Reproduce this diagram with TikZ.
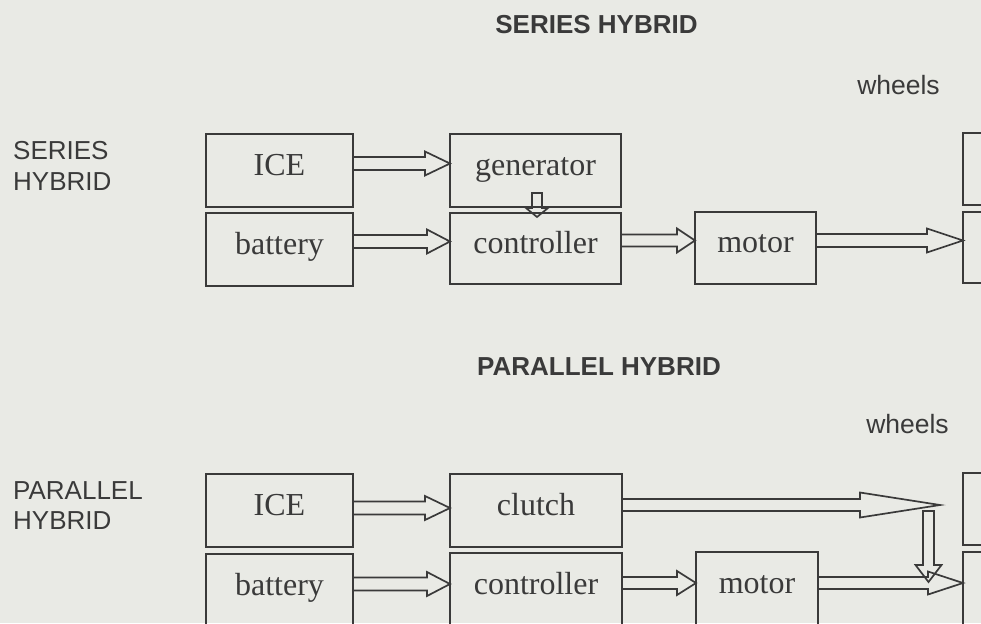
\documentclass[tikz,border=0pt]{standalone}
\usepackage{fontspec}
\setmainfont{Liberation Serif}
\newfontfamily\labelsans{Liberation Sans}
\usetikzlibrary{calc}
\definecolor{bg}{RGB}{233,234,229}
\definecolor{ink}{RGB}{58,58,58}
\tikzset{
  box/.style={draw=ink, line width=1.8pt, minimum width=#1, minimum height=73pt,
    inner sep=0pt, outer sep=0pt, text height=22pt, text depth=13pt,
    font=\fontsize{32}{32}\selectfont, text=ink},
  arr/.style={draw=ink, line width=1.7pt, line join=miter},
  titletext/.style={font=\labelsans\bfseries\fontsize{26}{26}\selectfont, text=ink, inner sep=0pt},
  sidetext/.style={font=\labelsans\fontsize{26}{30.5}\selectfont, text=ink, inner sep=0pt, align=left},
  wheeltext/.style={font=\labelsans\fontsize{26.5}{26.5}\selectfont, text=ink, inner sep=0pt},
}
% horizontal hollow arrow: start, end (only x used), head length, shaft half width, head half width
\newcommand\fatarrow[5]{%
  \draw[arr] let \p1=(#1), \p2=(#2) in
    (\x1,\y1+#4) -- (\x2-#3,\y1+#4) -- (\x2-#3,\y1+#5) -- (\x2,\y1)
    -- (\x2-#3,\y1-#5) -- (\x2-#3,\y1-#4) -- (\x1,\y1-#4) -- cycle;}
% downward hollow arrow: start, tip (only y used), head length, shaft half width, head half width
\newcommand\fatarrowdown[5]{%
  \draw[arr] let \p1=(#1), \p2=(#2) in
    (\x1-#4,\y1) -- (\x1-#4,\y2+#3) -- (\x1-#5,\y2+#3) -- (\x1,\y2)
    -- (\x1+#5,\y2+#3) -- (\x1+#4,\y2+#3) -- (\x1+#4,\y1) -- cycle;}
\begin{document}
\begin{tikzpicture}[x=1pt,y=-1pt]
\useasboundingbox (0,0) rectangle (981,623);
\fill[bg] (0,0) rectangle (981,623);
\clip (0,0) rectangle (981,623);

% ---------------- SERIES HYBRID ----------------
\node[titletext, anchor=base] (t1) at (596.5,34) {SERIES HYBRID};
\node[sidetext, anchor=north west] (s1) at (13,141.5) {SERIES\\HYBRID};
\node[wheeltext, anchor=base] (w1) at (898.5,95) {wheels};

\node[box=147pt] (ice1) at (279.5,170.5) {ICE};
\node[box=171pt] (gen1) at (535.5,170.5) {generator};
\node[box=147pt] (bat1) at (279.5,249.5) {battery};
\node[box=171pt, minimum height=71pt] (ctl1) at (535.5,248.5) {controller};
\node[box=121pt, minimum height=72pt] (mot1) at (755.5,248) {motor};
\node[box=100pt, minimum height=72pt] (wa1) at (1013,169) {};
\node[box=100pt, minimum height=71pt] (wb1) at (1013,247.5) {};

\fatarrow{[yshift=7pt]ice1.east}{gen1.west}{25pt}{6.5pt}{12pt}
\fatarrow{[yshift=8pt]bat1.east}{ctl1.west}{23pt}{6.5pt}{12pt}
\fatarrow{[yshift=8pt]ctl1.east}{mot1.west}{18pt}{6pt}{12pt}
\fatarrow{[yshift=7.5pt]mot1.east}{wb1.west}{36pt}{6.5pt}{12pt}
\fatarrowdown{[xshift=1.5pt,yshift=14pt]gen1.south}{[xshift=1.5pt,yshift=-4pt]ctl1.north}{9pt}{5pt}{11pt}

% ---------------- PARALLEL HYBRID ----------------
\node[titletext, anchor=base] (t2) at (599,375) {PARALLEL HYBRID};
\node[sidetext, anchor=north west] (s2) at (13,481.4) {PARALLEL\\HYBRID};
\node[wheeltext, anchor=base] (w2) at (907.5,433) {wheels};

\node[box=147pt] (ice2) at (279.5,510.5) {ICE};
\node[box=172pt] (clu2) at (536,510.5) {clutch};
\node[box=147pt] (bat2) at (279.5,590.5) {battery};
\node[box=172pt] (ctl2) at (536,589.5) {controller};
\node[box=122pt] (mot2) at (757,588.5) {motor};
\node[box=100pt, minimum height=72pt] (wa2) at (1013,509) {};
\node[box=100pt] (wb2) at (1013,588.5) {};

\fatarrow{[yshift=2.5pt]ice2.east}{clu2.west}{25pt}{6.5pt}{12pt}
\fatarrow{[yshift=5.5pt]clu2.east}{[xshift=-23pt]wa2.west}{80pt}{6pt}{12.5pt}
\fatarrow{[yshift=6.5pt]bat2.east}{ctl2.west}{23pt}{6.5pt}{12pt}
\fatarrow{[yshift=6.5pt]ctl2.east}{mot2.west}{19pt}{6pt}{12pt}
\fatarrow{[yshift=5.5pt]mot2.east}{wb2.west}{35pt}{6pt}{11.5pt}
\fatarrowdown{[xshift=-34.5pt,yshift=-2pt]wa2.west}{[xshift=-34.5pt,yshift=6.5pt]wb2.west}{17pt}{5.5pt}{13pt}
\end{tikzpicture}
\end{document}
